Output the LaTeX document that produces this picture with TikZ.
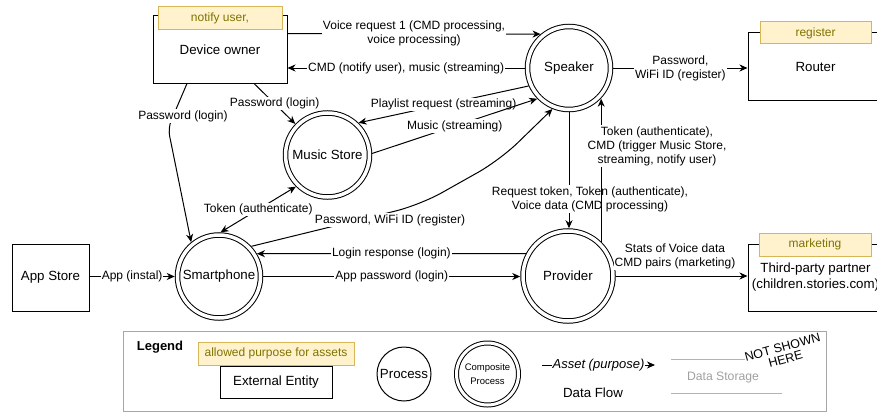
\documentclass[tikz,border=0pt]{standalone}
\usepackage{fontspec}
\setmainfont{Liberation Sans}
\usetikzlibrary{arrows.meta}
\definecolor{yfill}{HTML}{FFF2CC}
\definecolor{ydraw}{HTML}{D6B656}
\definecolor{ytext}{HTML}{7F7300}
\definecolor{lgray}{HTML}{A6A6A6}
\definecolor{sline}{HTML}{B3B3B3}
\definecolor{stext}{HTML}{A0A0A0}
\begin{document}
\begin{tikzpicture}[x=1pt,y=-1pt,
  every node/.style={font=\fontsize{13.3}{16}\selectfont},
  ent/.style={draw, line width=1pt, inner sep=0, minimum width=134pt, minimum height=67pt, align=center},
  purp/.style={draw=ydraw, fill=yfill, line width=1pt, text=ytext, font=\fontsize{12}{14}\selectfont, inner sep=0, minimum height=23pt},
  dproc/.style={circle, draw, line width=1pt, double, double distance=3.5pt, inner sep=0, outer sep=2.75pt, align=center},
  lbl/.style={fill=white, inner sep=1pt, font=\fontsize{12}{14}\selectfont, align=center},
  tipa/.tip={Stealth[length=8pt,width=7pt,inset=2.5pt]},
  flow/.style={line width=1pt, -tipa},
  flowboth/.style={line width=1pt, tipa-tipa},
]
\useasboundingbox (0,0) rectangle (877,412);

% entities and processes
\node[ent] (dev) at (220,49.5) {Device owner};
\node[purp, minimum width=124pt] (devp) at (220,18.5) {notify user,};
\node[dproc, minimum size=83pt] (sp) at (569,68) {Speaker};
\node[ent, minimum width=135pt] (rt) at (815.5,66.5) {Router};
\node[purp, minimum width=111pt, minimum height=22pt] (rtp) at (815.5,33) {register};
\node[dproc, minimum size=84pt] (ms) at (327.5,155) {Music Store};
\node[dproc, minimum size=83pt] (sm) at (219,276.5) {Smartphone};
\node[ent, minimum width=77pt] (app) at (50.5,277.5) {App Store};
\node[dproc, minimum size=90pt] (pr) at (568,276) {Provider};
\node[ent, minimum width=135pt] (tp) at (815.5,277.5) {Third-party partner\\(children.stories.com)};
\node[purp, minimum width=112pt] (tpp) at (815,244.5) {marketing};

% waypoints
\coordinate (w1) at (168,128);
\coordinate (w2) at (420,205);
\coordinate (w3) at (500,160);

% flows
\draw[flow] ([yshift=16pt]dev.east) -- node[lbl]{Voice request 1 (CMD processing,\\voice processing)} (sp.130);
\draw[flow] (sp.west) -- node[lbl]{CMD (notify user), music (streaming)} ([yshift=-18.5pt]dev.east);
\draw[flow] (sp.east) -- node[lbl]{Password,\\WiFi ID (register)} (sp.east -| rt.west);
\draw[flow] ([xshift=34pt]dev.south) -- node[lbl]{Password (login)} (ms.136);
\draw[flow, rounded corners=8pt] ([xshift=-33pt]dev.south) -- (w1) -- (sm.129);
\node[lbl] (l5) at (183,116) {Password (login)};
\draw[flow] (sp.204) -- node[lbl]{Playlist request (streaming)} (ms.46);
\draw[flow] (ms.2) -- node[lbl]{Music (streaming)} (sp.224);
\draw[flow, rounded corners=25pt] (sm.43) -- (w2) -- (w3) -- (sp.248);
\node[lbl] (l8) at (390,220) {Password, WiFi ID (register)};
\draw[flow] (sp.south) -- (sp.south |- pr.north);
\node[lbl] (l9) at (590,199) {Request token, Token (authenticate),\\Voice data (CMD processing)};
\draw[flow] (pr.46) -- (pr.46 |- sp.316);
\node[lbl] (l10) at (657,146) {Token (authenticate),\\CMD (trigger Music Store,\\streaming, notify user)};
\draw[flowboth] (ms.225) -- node[lbl]{Token (authenticate)} (sm.88);
\draw[flow] (sm.west -| app.east) -- node[lbl]{App (instal)} (sm.west);
\draw[flow] (pr.152) -- node[lbl]{Login response (login)} (sm.31);
\draw[flow] (sm.east) -- node[lbl]{App password (login)} (sm.east -| pr.west);
\draw[flow] (pr.east) -- (pr.east -| tp.west);
\node[lbl] (l15) at (675,256) {Stats of Voice data\\CMD pairs (marketing)};

% legend
\node[draw=lgray, line width=1pt, minimum width=703pt, minimum height=80pt, inner sep=0] (leg) at (474.5,371) {};
\node[font=\fontsize{13}{15}\selectfont\bfseries] (legt) at (160,347) {Legend};
\node[ent, minimum width=112pt, minimum height=32pt] (lee) at (276,382) {External Entity};
\node[purp, minimum width=156pt] (lep) at (276,353.5) {allowed purpose for assets};
\node[circle, draw, line width=1pt, minimum size=54pt, inner sep=0] (lpr) at (404,374) {Process};
\node[dproc, minimum size=62pt, double distance=3pt, outer sep=2.5pt, font=\fontsize{9.5}{14}\selectfont] (lcp) at (487.5,374) {Composite\\Process};
\coordinate (df1) at (542,365);
\coordinate (df2) at (655,365);
\draw[flow] (df1) -- node[lbl, font=\fontsize{13}{15}\selectfont\itshape]{Asset (purpose)} (df2);
\node (ldf) at (593,393) {Data Flow};
\coordinate (ds1) at (671,359);
\coordinate (ds2) at (782,359);
\coordinate (ds3) at (671,393);
\coordinate (ds4) at (782,393);
\draw[sline, line width=1pt] (ds1) -- (ds2);
\draw[sline, line width=1pt] (ds3) -- (ds4);
\node[fill=white, rotate=15, align=center, inner sep=0.5pt, font=\fontsize{12.5}{12}\selectfont] (lns) at (784,353) {NOT SHOWN\\HERE};
\node[text=stext, font=\fontsize{12.2}{14}\selectfont] (lds) at (723,378) {Data Storage};
\end{tikzpicture}
\end{document}
